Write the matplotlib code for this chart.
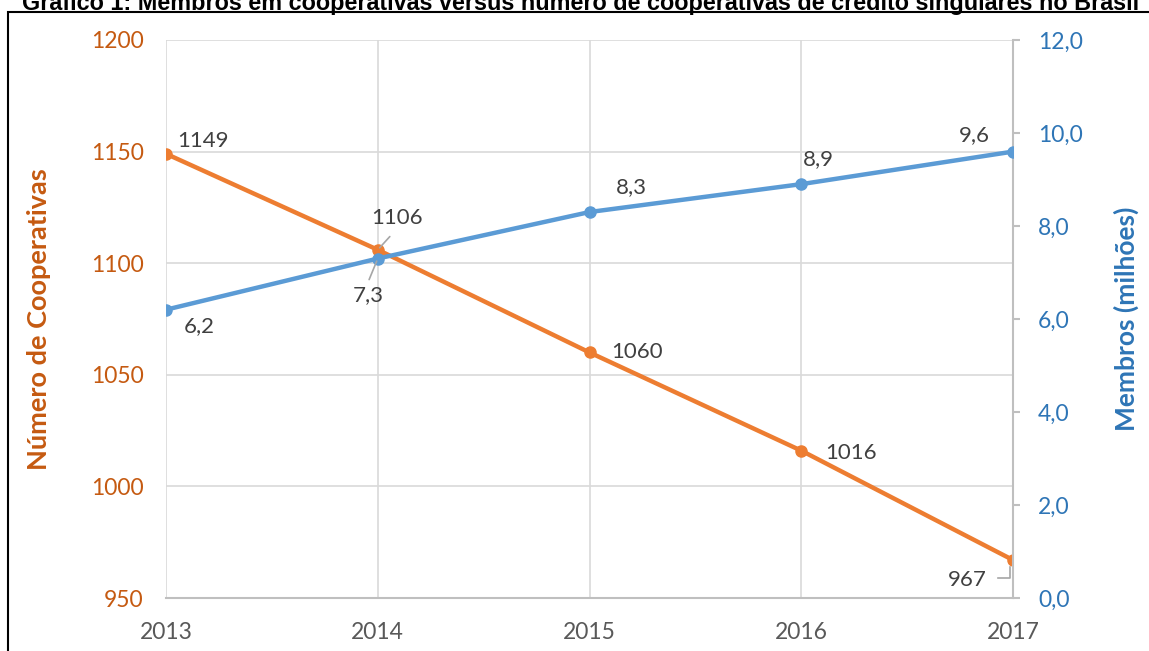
import numpy as np
import matplotlib.pyplot as plt
import matplotlib.transforms as mtransforms
from matplotlib.patches import Rectangle
from matplotlib.lines import Line2D

# Dados
anos = [2013, 2014, 2015, 2016, 2017]
cooperativas = [1149, 1106, 1060, 1016, 967]
membros = [6.2, 7.3, 8.3, 8.9, 9.6]

rotulos_coop = ['1149', '1106', '1060', '1016', '967']
rotulos_memb = ['6,2', '7,3', '8,3', '8,9', '9,6']

# deslocamento dos rótulos (pontos)
desl_coop = [(8, 9), (14, 23), (34, 0), (36, -2), (-33, -14)]
desl_memb = [(24, -12), (-7, -26), (30, 18), (12, 18), (-28, 12)]

laranja = '#ED7D31'
azul = '#5B9BD5'
laranja_txt = '#C55A11'
azul_txt = '#2E75B6'
cinza = '#D9D9D9'

plt.rcParams['font.family'] = ['Lato', 'DejaVu Sans']

fig = plt.figure(figsize=(11.49, 6.51), dpi=100)
ax = fig.add_axes([0.1445, 0.0814, 0.7372, 0.8572])
ax2 = ax.twinx()

x = np.arange(len(anos))

ax.plot(x, cooperativas, color=laranja, lw=3.2, marker='o', ms=8, zorder=3)
ax2.plot(x, membros, color=azul, lw=3.2, marker='o', ms=8, zorder=3)

ax.set_xlim(0, len(anos) - 1)
ax.set_ylim(950, 1200)
ax.set_yticks([950, 1000, 1050, 1100, 1150, 1200])
ax2.set_ylim(0, 12)
ax2.set_yticks([0, 2, 4, 6, 8, 10, 12])
ax2.set_yticklabels([f'{v:.1f}'.replace('.', ',') for v in [0, 2, 4, 6, 8, 10, 12]])

ax.set_xticks(x)
ax.set_xticklabels([str(a) for a in anos])

ax.grid(True, color=cinza, lw=1.2)
ax.set_axisbelow(True)
ax2.set_zorder(ax.get_zorder() + 1)
ax2.patch.set_visible(False)

for a in (ax, ax2):
    for s in a.spines.values():
        s.set_visible(False)
ax2.spines['right'].set_visible(True)
ax2.spines['right'].set_color('#BFBFBF')
ax2.spines['right'].set_linewidth(1.5)
ax.spines['bottom'].set_visible(True)
ax.spines['bottom'].set_color('#BFBFBF')
ax.spines['bottom'].set_linewidth(1.5)

ax.tick_params(axis='y', length=0, pad=16, labelsize=16.5, labelcolor=laranja_txt)
ax.tick_params(axis='x', length=0, pad=17, labelsize=16.5, labelcolor='#595959')
ax2.tick_params(axis='y', length=5, width=1.5, color='#BFBFBF', pad=13,
                labelsize=16.5, labelcolor=azul_txt)

ax.set_ylabel('Número de Cooperativas', fontsize=19.5, fontweight='bold',
              color=laranja_txt, labelpad=29)
ax2.set_ylabel('Membros (milhões)', fontsize=19, fontweight='bold',
               color=azul_txt, labelpad=22)

for i in range(len(anos)):
    ax.annotate(rotulos_coop[i], (x[i], cooperativas[i]), xytext=desl_coop[i],
                textcoords='offset points', ha='center' if i else 'left',
                va='center', fontsize=16, color='#404040', zorder=5)
    ax2.annotate(rotulos_memb[i], (x[i], membros[i]), xytext=desl_memb[i],
                 textcoords='offset points', ha='center', va='center',
                 fontsize=16, color='#404040', zorder=5)

# linhas de chamada
ax.annotate('', (x[1], cooperativas[1]), xytext=(10, 11), textcoords='offset points',
            arrowprops=dict(arrowstyle='-', color='#A6A6A6', lw=1.2))
ax2.annotate('', (x[1], membros[1]), xytext=(-7, -17), textcoords='offset points',
             arrowprops=dict(arrowstyle='-', color='#A6A6A6', lw=1.2))
trans967 = fig.dpi_scale_trans + mtransforms.ScaledTranslation(x[4], cooperativas[4], ax.transData)
ax.add_line(Line2D(np.array([-10.8, -2.2, -2.2]) / 72, np.array([-13, -13, -5]) / 72,
                   transform=trans967, color='#A6A6A6', lw=1.2, clip_on=False))

fig.text(0.019, 0.984, 'Gráfico 1: Membros em cooperativas versus número de cooperativas '
         'de crédito singulares no Brasil', family='Liberation Sans',
         fontweight='bold', fontsize=16.8, va='baseline', ha='left')

fig.patches.append(Rectangle((8 / 1149, -0.1), 1.2, 1.1 - 12 / 651,
                             transform=fig.transFigure, fill=False,
                             edgecolor='black', lw=1.5))

fig.savefig('out.png', dpi=100)
